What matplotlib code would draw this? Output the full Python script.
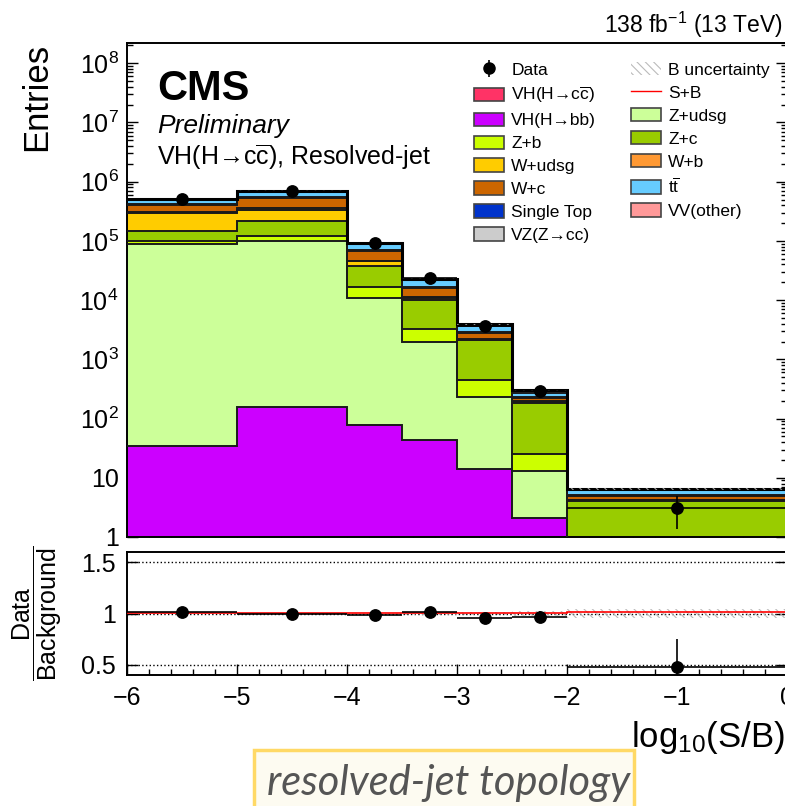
import numpy as np
import matplotlib
matplotlib.use("Agg")
import matplotlib.pyplot as plt
from matplotlib.patches import Patch, Rectangle
from matplotlib.lines import Line2D
from matplotlib.ticker import FixedLocator, FixedFormatter, LogLocator, MultipleLocator, NullFormatter

plt.rcParams['font.family'] = ['Liberation Sans', 'DejaVu Sans']
plt.rcParams['mathtext.fontset'] = 'custom'
plt.rcParams['mathtext.rm'] = 'Liberation Sans'
plt.rcParams['mathtext.it'] = 'Liberation Sans:italic'
plt.rcParams['mathtext.bf'] = 'Liberation Sans:bold'
plt.rcParams['hatch.linewidth'] = 0.8

# ---- binning in log10(S/B) ----
bin_edges = [-6, -5, -4, -3.5, -3, -2.5, -2, 0]

# ---- observed events ----
data_counts = [5.2e5, 7.05e5, 9.15e4, 2.34e4, 3.72e3, 288, 3.1]

# ---- expected yields per process ----
vh_bb      = [35, 155, 79, 43, 14, 2.07, 0.05]
z_udsg     = [8.9e4, 9.9e4, 1.1e4, 1.92e3, 216, 10.7, 0.3]
z_b        = [1.2e4, 2.4e4, 5.3e3, 1.34e3, 216, 12.7, 0.2]
z_c        = [4.5e4, 9.8e4, 2.16e4, 6.8e3, 1.65e3, 160, 3.5]
w_udsg     = [1.49e5, 1.14e5, 7.0e3, 900, 60, 8, 0.1]
w_b        = [1.5e4, 2.4e4, 1.5e3, 400, 40, 5, 0.1]
w_c        = [1.02e5, 1.81e5, 2.15e4, 4.4e3, 560, 26, 0.65]
single_top = [1.5e4, 1.5e4, 2.0e3, 700, 150, 10, 0.15]
ttbar      = [7.3e4, 1.35e5, 1.9e4, 5.5e3, 760, 38, 1.13]
vv_other   = [1.0e4, 1.5e4, 3.0e3, 800, 150, 18, 0.2]
vz_cc      = [2.0e3, 3.0e3, 1.0e3, 300, 80, 8, 0.1]
vh_cc      = [1.6, 22, 17, 13, 7, 1.7, 0.08]

# relative background uncertainty per bin
b_unc_rel = [0.005, 0.005, 0.008, 0.01, 0.015, 0.02, 0.04]

# ---- styling ----
C = {
    'vh_cc': '#ff3366', 'vh_bb': '#cc00ff', 'z_b': '#ccff00', 'w_udsg': '#ffcc00',
    'w_c': '#cc6600', 'single_top': '#0033cc', 'vz_cc': '#cccccc',
    'z_udsg': '#ccff99', 'z_c': '#99cc00', 'w_b': '#ff9933', 'ttbar': '#66ccff',
    'vv_other': '#ff9999',
}

edges = np.array(bin_edges, dtype=float)
centers = 0.5 * (edges[1:] + edges[:-1])
halfw = 0.5 * np.diff(edges)
data = np.array(data_counts, dtype=float)

# stacking order, bottom to top
stack = [
    (vh_bb, C['vh_bb']), (z_udsg, C['z_udsg']), (z_b, C['z_b']), (z_c, C['z_c']),
    (w_udsg, C['w_udsg']), (w_b, C['w_b']), (w_c, C['w_c']),
    (single_top, C['single_top']), (ttbar, C['ttbar']), (vv_other, C['vv_other']),
    (vz_cc, C['vz_cc']),
]

W, H = 785, 806
fig = plt.figure(figsize=(W / 100, H / 100), dpi=100)

def fx(px):
    return px / W

def fy(py):
    return 1 - py / H

ax = fig.add_axes([fx(127), fy(537), fx(787) - fx(127), fy(43) - fy(537)])
ax2 = fig.add_axes([fx(127), fy(675), fx(787) - fx(127), fy(552) - fy(675)])

# ---- main panel: stacked backgrounds ----
bottom = np.full(len(centers), 1e-3)
for vals, col in stack:
    top = bottom + np.array(vals, dtype=float)
    ax.stairs(top, edges, baseline=bottom, fill=True, color=col, lw=0, zorder=2)
    ax.stairs(top, edges, baseline=None, color='#1a1a1a', lw=1.4, zorder=3)
    bottom = top
bkg = bottom.copy()
sig = np.array(vh_cc, dtype=float)
ax.stairs(bkg + sig, edges, baseline=bkg, fill=True, color=C['vh_cc'], lw=0, zorder=2)
ax.stairs(bkg + sig, edges, baseline=None, color='red', lw=0.6, zorder=2.5)
ax.stairs(bkg, edges, baseline=None, color='black', lw=2.2, zorder=4)

unc = np.array(b_unc_rel)
ax.stairs(bkg * (1 + unc), edges, baseline=bkg * (1 - unc), fill=True,
          facecolor='none', edgecolor='#999999', hatch='\\\\\\\\', lw=0, zorder=5)

ax.errorbar(centers, data, xerr=halfw, yerr=np.sqrt(data), fmt='o', color='black',
            ms=8.2, elinewidth=1.2, capsize=0, zorder=10)

ax.set_xlim(-6, 0)
ax.set_yscale('log')
ax.set_ylim(1, 2.2e8)
ax.yaxis.set_major_locator(FixedLocator([10.0 ** k for k in range(9)]))
ax.yaxis.set_major_formatter(FixedFormatter(
    ['1', '10'] + [r'$10^{%d}$' % k for k in range(2, 9)]))
ax.yaxis.set_minor_locator(LogLocator(base=10, subs=np.arange(2, 10), numticks=20))
ax.yaxis.set_minor_formatter(NullFormatter())
ax.xaxis.set_major_locator(MultipleLocator(1))
ax.xaxis.set_minor_locator(MultipleLocator(0.2))
ax.tick_params(axis='x', labelbottom=False)
ax.tick_params(which='both', direction='in', top=False, right=True, width=1.0)
ax.tick_params(which='major', length=8)
ax.tick_params(which='minor', length=4)
ax.tick_params(axis='y', labelsize=18, pad=6)
for s in ax.spines.values():
    s.set_linewidth(1.4)

ax.set_ylabel('Entries', fontsize=25, loc='top')
ax.yaxis.set_label_coords(-0.112, 1.0)

# ---- labels ----
fig.text(fx(157), fy(100), 'CMS', fontsize=30, fontweight='bold', ha='left', va='baseline')
fig.text(fx(157), fy(133), 'Preliminary', fontsize=19, style='italic', ha='left', va='baseline')
fig.text(fx(157), fy(165), r'VH(H→c$\overline{\mathrm{c}}$), Resolved-jet', fontsize=18,
         ha='left', va='baseline')
fig.text(fx(783), fy(33), r'138 fb$^{-1}$ (13 TeV)', fontsize=16.5, ha='right', va='baseline')

# ---- legend ----
data_handle = ax.errorbar([], [], yerr=[], fmt='o', color='black', ms=8, elinewidth=1.2)
def box(col):
    return Patch(facecolor=col, edgecolor='#444444', lw=1.2)
handles = [
    data_handle, box(C['vh_cc']), box(C['vh_bb']), box(C['z_b']), box(C['w_udsg']),
    box(C['w_c']), box(C['single_top']), box(C['vz_cc']),
    Patch(facecolor='white', edgecolor='#bbbbbb', hatch='\\\\\\\\', lw=0),
    Line2D([], [], color='red', lw=1.0),
    box(C['z_udsg']), box(C['z_c']), box(C['w_b']), box(C['ttbar']), box(C['vv_other']),
]
labels = [
    'Data', r'VH(H→c$\overline{\mathrm{c}}$)', 'VH(H→bb)', 'Z+b', 'W+udsg', 'W+c',
    'Single Top', 'VZ(Z→cc)',
    'B uncertainty', 'S+B', 'Z+udsg', 'Z+c', 'W+b', r't$\overline{\mathrm{t}}$', 'VV(other)',
]
ax.legend(handles, labels, ncol=2, loc='upper left', bbox_to_anchor=(fx(474), fy(62)),
          bbox_transform=fig.transFigure, frameon=False, fontsize=12.5,
          handlelength=1.75, handleheight=0.8, handletextpad=0.4, labelspacing=0.42,
          columnspacing=2.0, borderpad=0, borderaxespad=0)

# ---- ratio panel ----
ratio = data / bkg
ratio_err = np.sqrt(data) / bkg
ax2.stairs(1 + unc, edges, baseline=1 - unc, fill=True, facecolor='none',
           edgecolor='#bbbbbb', hatch='\\\\\\\\', lw=0, zorder=2)
for yv in (0.5, 1.0, 1.5):
    ax2.axhline(yv, color='black', ls=':', lw=1.0, zorder=1)
ax2.stairs((bkg + sig) / bkg, edges, baseline=None, color='red', lw=1.2, zorder=3)
ax2.errorbar(centers, ratio, xerr=halfw, yerr=ratio_err, fmt='o', color='black',
             ms=8.2, elinewidth=1.2, capsize=0, zorder=10, clip_on=True)

ax2.set_xlim(-6, 0)
ax2.set_ylim(0.4, 1.6)
ax2.yaxis.set_major_locator(FixedLocator([0.5, 1.0, 1.5]))
ax2.yaxis.set_major_formatter(FixedFormatter(['0.5', '1', '1.5']))
ax2.xaxis.set_major_locator(MultipleLocator(1))
ax2.xaxis.set_minor_locator(MultipleLocator(0.2))
ax2.tick_params(which='both', direction='in', top=False, right=True, width=1.0)
ax2.tick_params(which='major', length=8)
ax2.tick_params(which='minor', length=4)
ax2.tick_params(axis='both', labelsize=18, pad=8)
for s in ax2.spines.values():
    s.set_linewidth(1.4)

ax2.set_ylabel(r'$\dfrac{\mathrm{Data}}{\mathrm{Background}}$', fontsize=18)
ax2.yaxis.set_label_coords(-0.095, 0.5)
ax2.set_xlabel(r'log$_{10}$(S/B)', fontsize=25, loc='right')
ax2.xaxis.set_label_coords(0.997, -0.36)

# ---- caption box ----
fig.patches.append(Rectangle((fx(254), fy(812)), fx(634) - fx(254), fy(750) - fy(812),
                             transform=fig.transFigure, facecolor='#fdfbf1',
                             edgecolor='#ffd966', lw=2.5, zorder=0))
fig.text(fx(267), fy(795), 'resolved-jet topology', fontsize=30, style='italic',
         family=['Lato', 'Open Sans', 'DejaVu Sans'], color='#555555',
         ha='left', va='baseline')

fig.savefig('out.png', dpi=100)
